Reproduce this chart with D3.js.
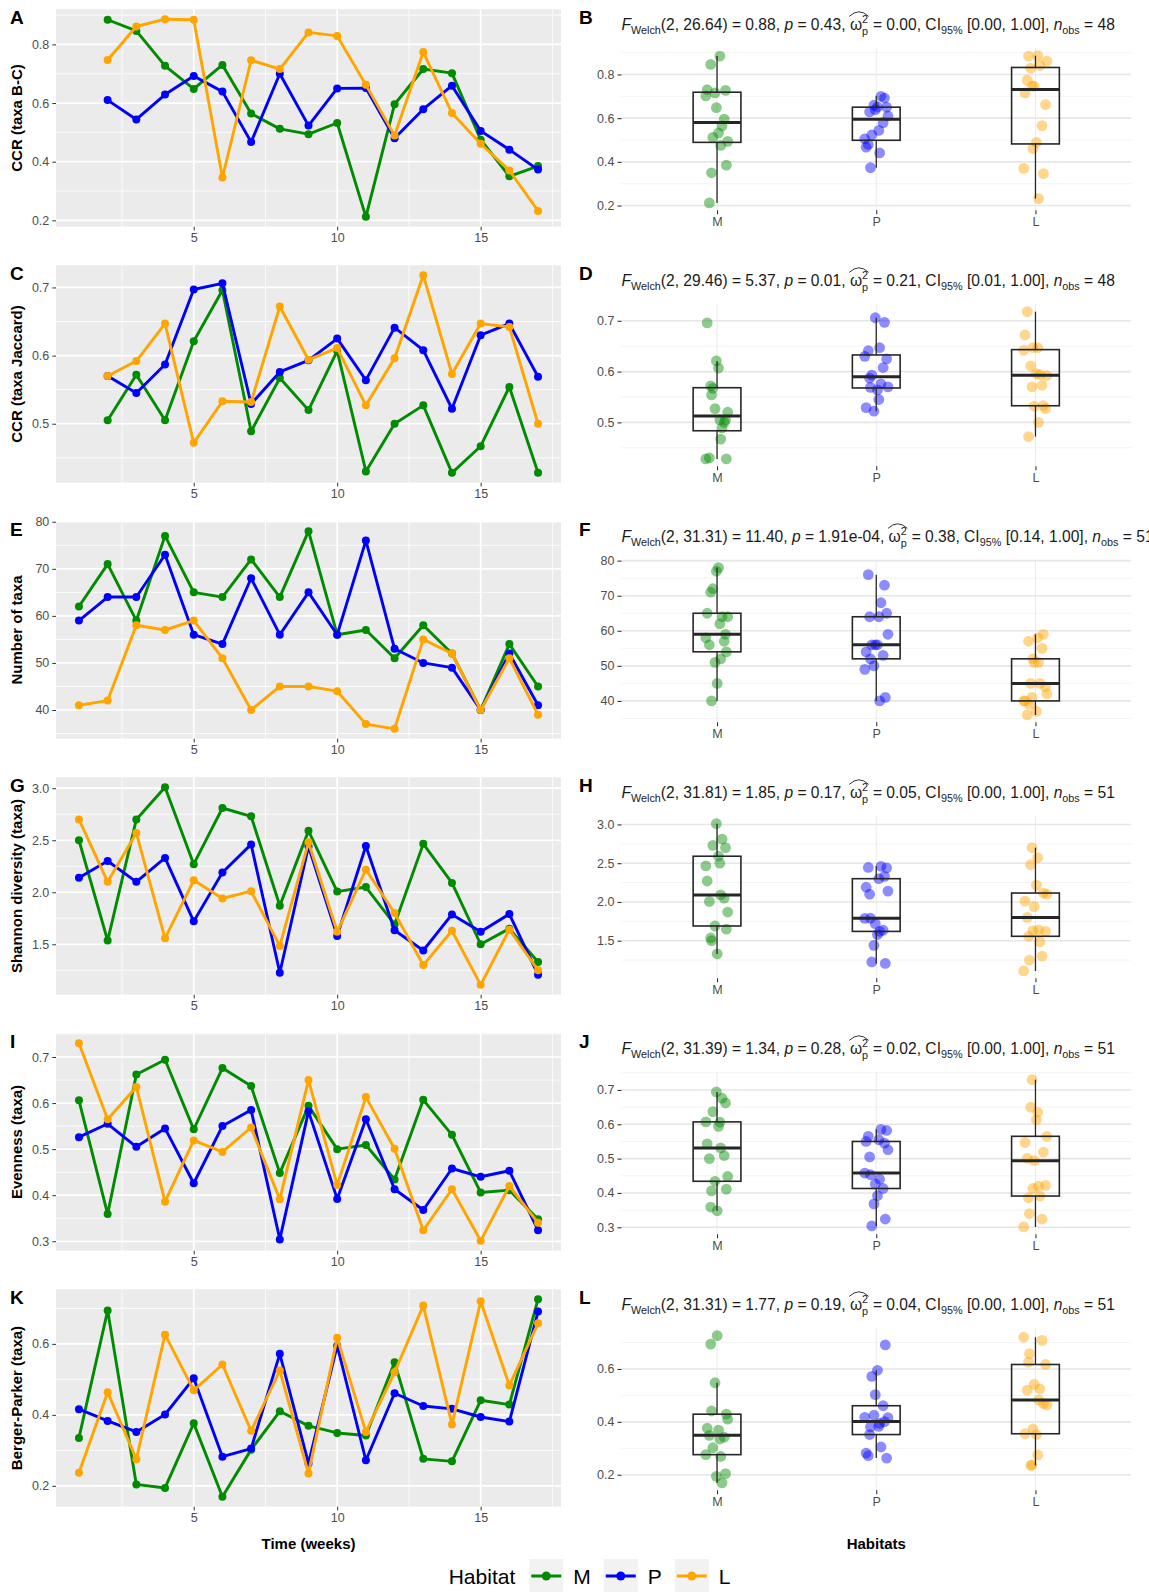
<!DOCTYPE html>
<html>
<head>
<meta charset="utf-8">
<script src="https://cdn.jsdelivr.net/npm/d3@7"></script>
<style>
  body { margin: 0; background: #ffffff; }
  svg { display: block; font-family: "Liberation Sans", Arial, Helvetica, sans-serif; }
  text.piece { white-space: pre; }
</style>
</head>
<body>
<svg id="chart" width="1149" height="1592"></svg>
<script>
// ---- sampling weeks ----
const weeks = [1, 2, 3, 4, 5, 6, 7, 8, 9, 10, 11, 12, 13, 14, 15, 16, 17];
const weeksFromTwo = [2, 3, 4, 5, 6, 7, 8, 9, 10, 11, 12, 13, 14, 15, 16, 17];
const weekTicks = [5, 10, 15];

// ---- habitats ----
const habitats = ["M", "P", "L"];
const habitatColors = ["#008B00", "#0000FF", "#FFA500"];

// ---- CCR (taxa B-C) ----
const ccrBC_M = [0.884, 0.846, 0.727, 0.648, 0.730, 0.564, 0.512, 0.494, 0.532, 0.212, 0.596, 0.716, 0.702, 0.475, 0.350, 0.385];
const ccrBC_P = [0.610, 0.544, 0.629, 0.692, 0.639, 0.467, 0.700, 0.523, 0.650, 0.651, 0.480, 0.579, 0.659, 0.505, 0.441, 0.373];
const ccrBC_L = [0.747, 0.861, 0.886, 0.884, 0.346, 0.746, 0.716, 0.841, 0.829, 0.662, 0.489, 0.774, 0.566, 0.461, 0.370, 0.232];
const ccrBCTicks = [0.2, 0.4, 0.6, 0.8];

// ---- CCR (taxa Jaccard) ----
const ccrJ_M = [0.505, 0.572, 0.505, 0.621, 0.696, 0.489, 0.567, 0.520, 0.607, 0.430, 0.500, 0.527, 0.428, 0.467, 0.554, 0.428];
const ccrJ_P = [0.570, 0.545, 0.587, 0.697, 0.706, 0.529, 0.576, 0.593, 0.625, 0.564, 0.641, 0.608, 0.522, 0.630, 0.647, 0.569];
const ccrJ_L = [0.570, 0.592, 0.647, 0.472, 0.533, 0.532, 0.672, 0.594, 0.611, 0.527, 0.596, 0.718, 0.573, 0.647, 0.642, 0.500];
const ccrJTicks = [0.5, 0.6, 0.7];

// ---- Number of taxa ----
const taxa_M = [62, 71, 59, 77, 65, 64, 72, 64, 78, 56, 57, 51, 58, 52, 40, 54, 45];
const taxa_P = [59, 64, 64, 73, 56, 54, 68, 56, 65, 56, 76, 53, 50, 49, 40, 52, 41];
const taxa_L = [41, 42, 58, 57, 59, 51, 40, 45, 45, 44, 37, 36, 55, 52, 40, 51, 39];
const taxaTicks = [40, 50, 60, 70, 80];

// ---- Shannon diversity ----
const shannon_M = [2.50, 1.535, 2.70, 3.01, 2.27, 2.81, 2.73, 1.87, 2.59, 2.006, 2.05, 1.69, 2.465, 2.09, 1.50, 1.65, 1.33];
const shannon_P = [2.14, 2.30, 2.10, 2.33, 1.72, 2.19, 2.46, 1.226, 2.44, 1.58, 2.445, 1.635, 1.44, 1.787, 1.62, 1.79, 1.207];
const shannon_L = [2.70, 2.10, 2.57, 1.557, 2.115, 1.94, 2.01, 1.484, 2.48, 1.62, 2.217, 1.80, 1.30, 1.63, 1.11, 1.64, 1.25];
const shannonTicks = [1.5, 2.0, 2.5, 3.0];

// ---- Evenness ----
const even_M = [0.606, 0.359, 0.662, 0.694, 0.543, 0.676, 0.637, 0.448, 0.594, 0.500, 0.509, 0.434, 0.607, 0.531, 0.406, 0.411, 0.348];
const even_P = [0.526, 0.555, 0.505, 0.545, 0.426, 0.550, 0.585, 0.304, 0.582, 0.392, 0.565, 0.413, 0.368, 0.458, 0.440, 0.453, 0.324];
const even_L = [0.730, 0.565, 0.635, 0.386, 0.519, 0.494, 0.547, 0.391, 0.650, 0.422, 0.613, 0.501, 0.324, 0.413, 0.301, 0.420, 0.340];
const evenTicks = [0.3, 0.4, 0.5, 0.6, 0.7];

// ---- Berger-Parker ----
const bp_M = [0.335, 0.694, 0.204, 0.194, 0.376, 0.169, 0.302, 0.410, 0.369, 0.349, 0.342, 0.548, 0.276, 0.269, 0.441, 0.429, 0.726];
const bp_P = [0.416, 0.383, 0.352, 0.401, 0.503, 0.282, 0.305, 0.572, 0.263, 0.595, 0.272, 0.461, 0.425, 0.417, 0.394, 0.381, 0.691];
const bp_L = [0.237, 0.464, 0.275, 0.626, 0.469, 0.542, 0.355, 0.525, 0.235, 0.617, 0.352, 0.520, 0.708, 0.373, 0.720, 0.483, 0.658];
const bpTicks = [0.2, 0.4, 0.6];

// ---- Welch ANOVA results (one per right-hand panel) ----
const welchDf2 = ["26.64", "29.46", "31.31", "31.81", "31.39", "31.31"];
const welchF = ["0.88", "5.37", "11.40", "1.85", "1.34", "1.77"];
const welchP = ["0.43", "0.01", "1.91e-04", "0.17", "0.28", "0.19"];
const omegaSq = ["0.00", "0.21", "0.38", "0.05", "0.02", "0.04"];
const ciLow = ["0.00", "0.01", "0.14", "0.00", "0.00", "0.00"];
const ciHigh = ["1.00", "1.00", "1.00", "1.00", "1.00", "1.00"];
const nObs = ["48", "48", "51", "51", "51", "51"];

const panelLetters = [["A", "B"], ["C", "D"], ["E", "F"], ["G", "H"], ["I", "J"], ["K", "L"]];
const yTitles = ["CCR (taxa B-C)", "CCR (taxa Jaccard)", "Number of taxa", "Shannon diversity (taxa)", "Evenness (taxa)", "Berger-Parker (taxa)"];

const panels = [
  { x: weeksFromTwo, series: [ccrBC_M, ccrBC_P, ccrBC_L], ticks: ccrBCTicks, fmt: ".1f" },
  { x: weeksFromTwo, series: [ccrJ_M, ccrJ_P, ccrJ_L], ticks: ccrJTicks, fmt: ".1f" },
  { x: weeks, series: [taxa_M, taxa_P, taxa_L], ticks: taxaTicks, fmt: "d" },
  { x: weeks, series: [shannon_M, shannon_P, shannon_L], ticks: shannonTicks, fmt: ".1f" },
  { x: weeks, series: [even_M, even_P, even_L], ticks: evenTicks, fmt: ".1f" },
  { x: weeks, series: [bp_M, bp_P, bp_L], ticks: bpTicks, fmt: ".1f" }
];

// ---- layout ----
const ROW0 = 9.3, ROW_STEP = 256;
const L_X0 = 56, L_X1 = 561, L_H = 217.4;
const R_X0 = 621.5, R_X1 = 1131, R_TOP = 39, R_BOT = 201;
const TICK_COLOR = "#333333", TICK_TEXT = "#4D4D4D";

const svg = d3.select("#chart");
svg.append("rect").attr("width", 1149).attr("height", 1592).attr("fill", "#ffffff");

// ggplot-style continuous range expansion (5% each side)
function expanded(values) {
  const [lo, hi] = d3.extent(values);
  const pad = (hi - lo) * 0.05;
  return [lo - pad, hi + pad];
}
function minorBreaks(ticks, domain) {
  const step = ticks[1] - ticks[0];
  const out = ticks.map(t => t - step / 2).concat([ticks[ticks.length - 1] + step / 2]);
  return out.filter(v => v >= domain[0] && v <= domain[1]);
}

const xWeek = d3.scaleLinear().domain(expanded(weeks)).range([L_X0, L_X1]);

// Welch ANOVA subtitle, typeset piece by piece
function statTitle(g, x0, base, i) {
  let cx = x0;
  const MAIN = 15.6, SMALL = 10.8;
  const put = (txt, o = {}) => {
    const t = g.append("text").attr("class", "piece")
      .attr("x", cx).attr("y", base + (o.dy || 0))
      .attr("font-size", o.size || MAIN)
      .attr("fill", "#1a1a1a")
      .attr("font-style", o.italic ? "italic" : null)
      .text(txt);
    const w = t.node().getComputedTextLength();
    if (!o.stay) cx += w;
    return w;
  };
  put("F", { italic: true });
  put("Welch", { size: SMALL, dy: 3.5 });
  put("(2, " + welchDf2[i] + ")");
  put(" = " + welchF[i] + ", ");
  put("p", { italic: true });
  put(" = " + welchP[i] + ", ");
  const ox = cx;
  put("\u03C9");
  const w2 = put("2", { size: SMALL, dy: -7.5, stay: true });
  const wp = put("p", { size: SMALL, dy: 4.5, stay: true });
  cx += Math.max(w2, wp) + 0.5;
  const hx0 = ox - 0.5, hx1 = cx, hy = base - 14;
  g.append("path")
    .attr("d", `M${hx0},${hy} Q${(hx0 + hx1) / 2},${hy - 9} ${hx1},${hy}`)
    .attr("fill", "none").attr("stroke", "#1a1a1a").attr("stroke-width", 0.9);
  put(" = " + omegaSq[i] + ", CI");
  put("95%", { size: SMALL, dy: 3.5 });
  put(" [" + ciLow[i] + ", " + ciHigh[i] + "], ");
  put("n", { italic: true });
  put("obs", { size: SMALL, dy: 3.5 });
  put(" = " + nObs[i]);
}

panels.forEach((p, r) => {
  const top = ROW0 + ROW_STEP * r;
  const allVals = p.series.flat();
  const domain = expanded(allVals);

  // ---------- left: weekly time series ----------
  const ly0 = top, ly1 = top + L_H;
  const y = d3.scaleLinear().domain(domain).range([ly1, ly0]);
  const gl = svg.append("g");
  gl.append("rect").attr("x", L_X0).attr("y", ly0).attr("width", L_X1 - L_X0).attr("height", ly1 - ly0).attr("fill", "#EBEBEB");

  const xMinor = minorBreaks(weekTicks, xWeek.domain());
  const yMinor = minorBreaks(p.ticks, domain);
  gl.selectAll(".ymin").data(yMinor).join("line")
    .attr("x1", L_X0).attr("x2", L_X1).attr("y1", d => y(d)).attr("y2", d => y(d))
    .attr("stroke", "#ffffff").attr("stroke-width", 0.8);
  gl.selectAll(".xmin").data(xMinor).join("line")
    .attr("y1", ly0).attr("y2", ly1).attr("x1", d => xWeek(d)).attr("x2", d => xWeek(d))
    .attr("stroke", "#ffffff").attr("stroke-width", 0.8);
  gl.selectAll(".ymaj").data(p.ticks).join("line")
    .attr("x1", L_X0).attr("x2", L_X1).attr("y1", d => y(d)).attr("y2", d => y(d))
    .attr("stroke", "#ffffff").attr("stroke-width", 1.7);
  gl.selectAll(".xmaj").data(weekTicks).join("line")
    .attr("y1", ly0).attr("y2", ly1).attr("x1", d => xWeek(d)).attr("x2", d => xWeek(d))
    .attr("stroke", "#ffffff").attr("stroke-width", 1.7);

  const yAx = gl.append("g").attr("transform", `translate(${L_X0},0)`)
    .call(d3.axisLeft(y).tickValues(p.ticks).tickFormat(d3.format(p.fmt)).tickSize(3.7).tickPadding(3));
  const xAx = gl.append("g").attr("transform", `translate(0,${ly1})`)
    .call(d3.axisBottom(xWeek).tickValues(weekTicks).tickSize(3.7).tickPadding(3));
  [yAx, xAx].forEach(a => {
    a.select(".domain").remove();
    a.selectAll(".tick line").attr("stroke", TICK_COLOR).attr("stroke-width", 1);
    a.selectAll(".tick text").attr("fill", TICK_TEXT).attr("font-size", 12.5).attr("font-family", null);
  });

  p.series.forEach((vals, j) => {
    const pts = vals.map((v, i) => [p.x[i], v]);
    gl.append("path").datum(pts)
      .attr("d", d3.line().x(d => xWeek(d[0])).y(d => y(d[1])))
      .attr("fill", "none").attr("stroke", habitatColors[j]).attr("stroke-width", 2.9)
      .attr("stroke-linejoin", "round");
    gl.append("g").selectAll("circle").data(pts).join("circle")
      .attr("cx", d => xWeek(d[0])).attr("cy", d => y(d[1])).attr("r", 4)
      .attr("fill", habitatColors[j]);
  });

  gl.append("text")
    .attr("transform", `translate(16.6,${(ly0 + ly1) / 2}) rotate(-90)`)
    .attr("text-anchor", "middle").attr("dy", "0.35em")
    .attr("font-size", 15).attr("font-weight", "bold").attr("fill", "#000")
    .text(yTitles[r]);
  gl.append("text").attr("x", 10).attr("y", top + 15)
    .attr("font-size", 19).attr("font-weight", "bold").attr("fill", "#000")
    .text(panelLetters[r][0]);

  // ---------- right: habitat box plots ----------
  const ry0 = top + R_TOP, ry1 = top + R_BOT;
  const yr = d3.scaleLinear().domain(domain).range([ry1, ry0]);
  const xr = d3.scalePoint().domain(habitats).range([R_X0, R_X1]).padding(0.6);
  const gr = svg.append("g");

  gr.selectAll(".rmin").data(yMinor).join("line")
    .attr("x1", R_X0).attr("x2", R_X1).attr("y1", d => yr(d)).attr("y2", d => yr(d))
    .attr("stroke", "#F2F2F2").attr("stroke-width", 0.9);
  gr.selectAll(".rmaj").data(p.ticks).join("line")
    .attr("x1", R_X0).attr("x2", R_X1).attr("y1", d => yr(d)).attr("y2", d => yr(d))
    .attr("stroke", "#E6E6E6").attr("stroke-width", 1.6);
  gr.selectAll(".rv").data(habitats).join("line")
    .attr("x1", d => xr(d)).attr("x2", d => xr(d)).attr("y1", ry0).attr("y2", ry1)
    .attr("stroke", "#EBEBEB").attr("stroke-width", 1);

  const ryAx = gr.append("g").attr("transform", `translate(${R_X0},0)`)
    .call(d3.axisLeft(yr).tickValues(p.ticks).tickFormat(d3.format(p.fmt)).tickSize(4).tickPadding(3));
  const rxAx = gr.append("g").attr("transform", `translate(0,${ry1})`)
    .call(d3.axisBottom(xr).tickSize(4).tickPadding(3));
  [ryAx, rxAx].forEach(a => {
    a.select(".domain").remove();
    a.selectAll(".tick line").attr("stroke", TICK_COLOR).attr("stroke-width", 1.1);
    a.selectAll(".tick text").attr("fill", TICK_TEXT).attr("font-size", 12.5).attr("font-family", null);
  });

  const spread = 12; // horizontal spread of the raw observations (px)
  p.series.forEach((vals, j) => {
    const cxh = xr(habitats[j]);
    gr.append("g").selectAll("circle").data(vals).join("circle")
      .attr("cx", (d, i) => cxh + (((i + 1) * 0.6180339887 + j * 0.37) % 1 - 0.5) * 2 * spread)
      .attr("cy", d => yr(d)).attr("r", 5.4)
      .attr("fill", habitatColors[j]).attr("fill-opacity", 0.45);

    const s = vals.slice().sort(d3.ascending);
    const q1 = d3.quantileSorted(s, 0.25), med = d3.quantileSorted(s, 0.5), q3 = d3.quantileSorted(s, 0.75);
    const iqr = q3 - q1;
    const wLo = d3.min(s.filter(v => v >= q1 - 1.5 * iqr));
    const wHi = d3.max(s.filter(v => v <= q3 + 1.5 * iqr));
    const bw = (xr.step()) * 0.3;
    const bx = gr.append("g");
    bx.append("line").attr("x1", cxh).attr("x2", cxh).attr("y1", yr(q3)).attr("y2", yr(wHi))
      .attr("stroke", "#262626").attr("stroke-width", 1.3);
    bx.append("line").attr("x1", cxh).attr("x2", cxh).attr("y1", yr(q1)).attr("y2", yr(wLo))
      .attr("stroke", "#262626").attr("stroke-width", 1.3);
    bx.append("rect").attr("x", cxh - bw / 2).attr("width", bw)
      .attr("y", yr(q3)).attr("height", yr(q1) - yr(q3))
      .attr("fill", "none").attr("stroke", "#262626").attr("stroke-width", 1.6);
    bx.append("line").attr("x1", cxh - bw / 2).attr("x2", cxh + bw / 2).attr("y1", yr(med)).attr("y2", yr(med))
      .attr("stroke", "#262626").attr("stroke-width", 3);
  });

  statTitle(gr, R_X0, top + 21, r);
  gr.append("text").attr("x", 579).attr("y", top + 15)
    .attr("font-size", 19).attr("font-weight", "bold").attr("fill", "#000")
    .text(panelLetters[r][1]);
});

// ---- axis titles of the bottom row ----
svg.append("text").attr("x", (L_X0 + L_X1) / 2).attr("y", 1549).attr("text-anchor", "middle")
  .attr("font-size", 15).attr("font-weight", "bold").text("Time (weeks)");
svg.append("text").attr("x", (R_X0 + R_X1) / 2).attr("y", 1549).attr("text-anchor", "middle")
  .attr("font-size", 15).attr("font-weight", "bold").text("Habitats");

// ---- legend ----
const lg = svg.append("g");
const legY = 1576;
let lx = 448.7;
const title = lg.append("text").attr("x", lx).attr("y", legY + 7.5).attr("font-size", 21).text("Habitat");
lx += title.node().getComputedTextLength() + 14;
habitats.forEach((h, j) => {
  lg.append("rect").attr("x", lx).attr("y", legY - 17).attr("width", 34).attr("height", 34).attr("fill", "#F2F2F2");
  lg.append("line").attr("x1", lx + 2).attr("x2", lx + 32).attr("y1", legY).attr("y2", legY)
    .attr("stroke", habitatColors[j]).attr("stroke-width", 3);
  lg.append("circle").attr("cx", lx + 17).attr("cy", legY).attr("r", 4.5).attr("fill", habitatColors[j]);
  const t = lg.append("text").attr("x", lx + 44).attr("y", legY + 7.5).attr("font-size", 21).text(h);
  lx += 44 + t.node().getComputedTextLength() + 13;
});
</script>
</body>
</html>
